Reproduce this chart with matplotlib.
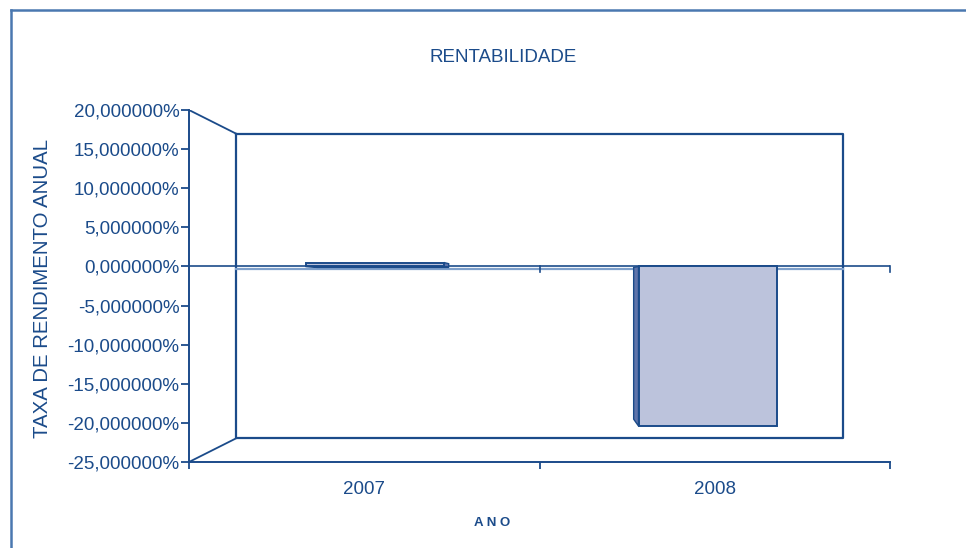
import numpy as np
import matplotlib
matplotlib.use("Agg")
import matplotlib.pyplot as plt
from matplotlib.ticker import FuncFormatter
from matplotlib.patches import Polygon
from matplotlib.lines import Line2D

# data (%)
anos = ["2007", "2008"]
rentabilidade = [0.5, -20.4]

# styles
navy = "#1B4B8A"
light = "#7FA0CB"
face = "#BCC3DC"
side = "#5F74AA"
plt.rcParams["font.family"] = ["Liberation Sans", "DejaVu Sans"]

fig = plt.figure(figsize=(9.66, 5.48), dpi=100)
ax = fig.add_axes([189 / 966, 1 - 462 / 548, 701 / 966, 352 / 548])
ax.set_xlim(-0.5, 1.5)
ax.set_ylim(-25, 20)

# pseudo 3D: points pushed back toward the centre of the plot
cx, cy = 0.5, -2.5
def back(x, y, k):
    return cx + k * (x - cx), cy + k * (y - cy)

# back wall
k_wall = 0.866
x0, y0 = back(-0.5, 20, k_wall)
x1, y1 = back(1.5, -25, k_wall)
ax.plot([x0, x1, x1, x0, x0], [y0, y0, y1, y1, y0], color=navy, lw=1.6, zorder=2)
ax.plot([-0.5, x0], [20, y0], color=navy, lw=1.3, zorder=2)
ax.plot([-0.5, x0], [-25, y1], color=navy, lw=1.3, zorder=2)
zb = back(0, 0, k_wall)[1]
ax.plot([x0, x1], [zb, zb], color=light, lw=1.6, zorder=2)

# front zero line
ax.axhline(0, color=navy, lw=1.2, zorder=3)
for t in [0.5, 1.5]:
    ax.plot([t, t], [0, -0.65], color=navy, lw=1.2, zorder=3, clip_on=False)

# bars
k_bar = 0.951
pos = np.arange(len(anos)) + np.array([0.03, -0.02])
width = 0.395
for p, v in zip(pos, rentabilidade):
    left, right = p - width / 2, p + width / 2
    edge_x = left if left > cx else right
    a = back(edge_x, 0, k_bar)
    b = back(edge_x, v, k_bar)
    ax.add_patch(Polygon([(edge_x, 0), (edge_x, v), b, a], closed=True,
                         facecolor=side, edgecolor=navy, lw=1.0, zorder=4))
    if v > 0:
        c = back(right, 0, k_bar)
        d = back(left, 0, k_bar)
        ax.add_patch(Polygon([(left, 0), (right, 0), c, d], closed=True,
                             facecolor=navy, edgecolor=navy, lw=1.0, zorder=4))
ax.bar(pos, rentabilidade, width=width, color=face, edgecolor=navy,
       linewidth=1.4, zorder=5)

# axes
for s in ["top", "right"]:
    ax.spines[s].set_visible(False)
for s in ["left", "bottom"]:
    ax.spines[s].set_color(navy)
    ax.spines[s].set_linewidth(1.4)
ax.set_yticks(np.arange(-25, 21, 5))
ax.yaxis.set_major_formatter(FuncFormatter(lambda v, _: f"{v:.6f}%".replace(".", ",")))
ax.tick_params(axis="y", colors=navy, labelcolor=navy, labelsize=13.5,
               length=6, width=1.3, pad=1)
ax.set_xticks([-0.5, 0.5, 1.5])
ax.set_xticklabels([])
ax.tick_params(axis="x", colors=navy, length=5, width=1.3)
ax.set_xticks(range(len(anos)), minor=True)
ax.set_xticklabels(anos, minor=True)
ax.tick_params(axis="x", which="minor", length=0, pad=14, labelsize=13.5,
               labelcolor=navy)

fig.text(0.5207, 1 - 58 / 548, "RENTABILIDADE", ha="center", va="center",
         fontsize=13.5, color=navy)
fig.text(43 / 966, 1 - 288 / 548, "TAXA DE RENDIMENTO ANUAL", ha="center",
         va="center", rotation=90, fontsize=14.7, color=navy)
fig.text(492 / 966, 1 - 523 / 548, "A N O", ha="center", va="center",
         fontsize=9.5, fontweight="bold", color=navy)

# outer chart border
fig.add_artist(Line2D([10.5 / 966, 10.5 / 966], [0, 1 - 10 / 548], color="#4A78B0", lw=1.8))
fig.add_artist(Line2D([10.5 / 966, 1], [1 - 10 / 548, 1 - 10 / 548], color="#4A78B0", lw=1.8))

fig.savefig("out.png", dpi=100)
